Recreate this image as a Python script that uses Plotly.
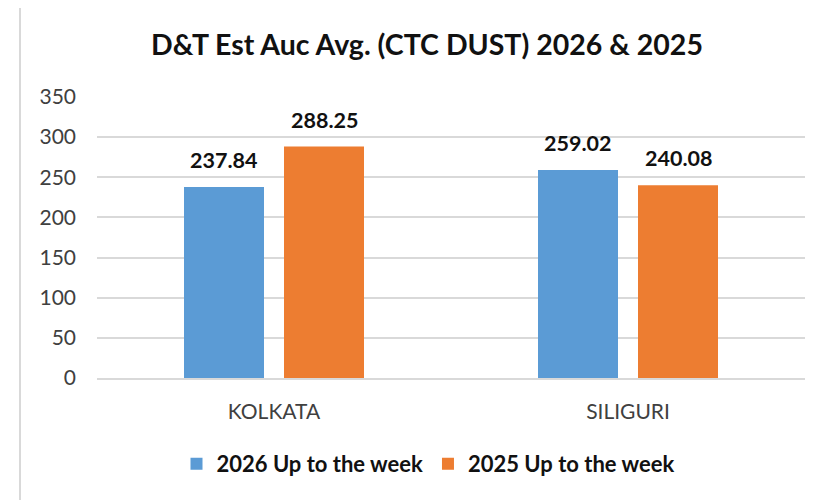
import plotly.graph_objects as go

categories = ["KOLKATA", "SILIGURI"]
series_2026 = [237.84, 259.02]
series_2025 = [288.25, 240.08]
series_names = ["2026 Up to the week", "2025 Up to the week"]
y_ticks = [0, 50, 100, 150, 200, 250, 300, 350]
colors = ["#5B9BD5", "#ED7D31"]

FONT = "Lato"
W, H = 820, 500
OFF = 8  # page body margin
# target screen positions of plot area
SX0, SX1, SY0, SY1 = 97, 805, 97, 378
L = SX0 - OFF
R = W - (SX1 - OFF)
T = SY0 - OFF
B = H - (SY1 - OFF)
pw = W - L - R
ph = H - T - B

def px_x(x):
    return (x - OFF - L) / pw

def px_y(y):
    return (H - B - (y - OFF)) / ph

BARGAP, GROUPGAP = 0.435, 0.2
slot = pw / len(categories) * (1 - BARGAP) / 2

fig = go.Figure()
annotations = []
for i, (name, vals) in enumerate([(series_names[0], series_2026), (series_names[1], series_2025)]):
    fig.add_trace(go.Bar(
        x=categories, y=vals, name=name,
        marker=dict(color=colors[i], line=dict(width=0)),
    ))
    shift = (i - 0.5) * slot
    for c, v in zip(categories, vals):
        annotations.append(dict(
            x=c, y=v, xref="x", yref="y", text=f"<b>{v:.2f}</b>",
            showarrow=False, xanchor="center", yanchor="bottom",
            xshift=shift, yshift=12,
            font=dict(family=FONT, size=21.5, color="#111111"),
        ))

fig.update_layout(
    width=W, height=H,
    margin=dict(l=L, r=R, t=T, b=B, autoexpand=False),
    paper_bgcolor="white", plot_bgcolor="white",
    barmode="group", bargap=BARGAP, bargroupgap=GROUPGAP,
    font=dict(family=FONT, color="#404040"),
    title=dict(text="<b>D&amp;T Est Auc Avg. (CTC DUST) 2026 &amp; 2025</b>",
               x=(427 - OFF) / W, xanchor="center",
               y=1 - (45 - OFF) / H, yanchor="middle",
               font=dict(family=FONT, size=28.5, color="#111111")),
    showlegend=True,
    legend=dict(orientation="h", x=px_x(428), xanchor="center",
                y=px_y(464), yanchor="middle",
                font=dict(family=FONT, size=22, color="#111111", weight="bold"),
                itemwidth=30, traceorder="normal"),
    annotations=annotations,
    shapes=[
        dict(type="line", xref="paper", yref="paper",
             x0=px_x(20), x1=px_x(20), y0=px_y(3), y1=px_y(520),
             line=dict(color="#D9D9D9", width=2)),
        dict(type="line", xref="paper", yref="paper",
             x0=px_x(20), x1=px_x(830), y0=px_y(3), y1=px_y(3),
             line=dict(color="#D9D9D9", width=2)),
    ],
)
fig.update_xaxes(showgrid=False, showline=True, linecolor="#D9D9D9", linewidth=1.5,
                 automargin=False, ticklabelstandoff=14,
                 tickfont=dict(family=FONT, size=21, color="#404040"), ticks="")
fig.update_yaxes(range=[0, 350], tickvals=y_ticks, showgrid=True, gridcolor="#D9D9D9",
                 gridwidth=1.5, zeroline=False, showline=False, automargin=False,
                 tickfont=dict(family=FONT, size=21, color="#404040"), ticklabelstandoff=20)

fig.write_html("out.html")
